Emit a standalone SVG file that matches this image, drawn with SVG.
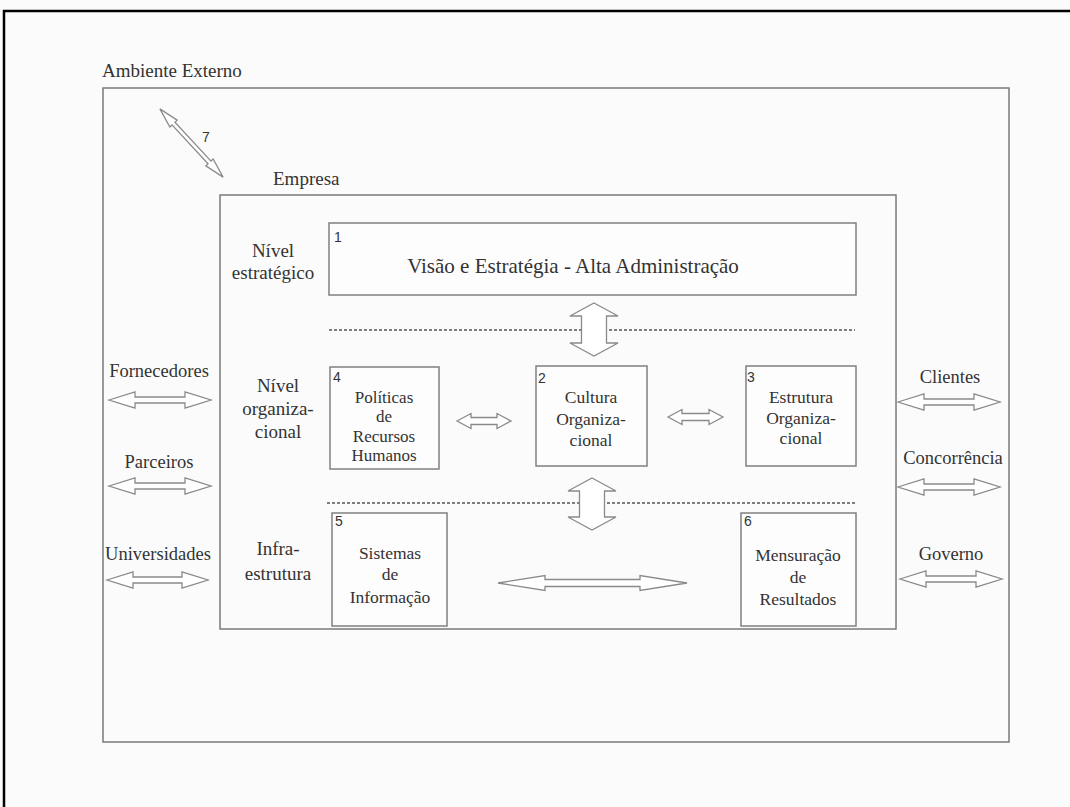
<svg xmlns="http://www.w3.org/2000/svg" width="1070" height="807" viewBox="0 0 1070 807">
<style>
.bg{fill:#fbfbfb}
.frame{fill:none;stroke:#000;stroke-width:2.5}
.box{fill:none;stroke:#7a7a7a;stroke-width:1.5}
.node{fill:#fdfdfd;stroke:#808080;stroke-width:1.5}
.arr{fill:#fff;stroke:#8a8a8a;stroke-width:1.3;stroke-linejoin:miter}
.dash{stroke:#555;stroke-width:1.6;stroke-dasharray:3 2;fill:none}
.t{font-family:"Liberation Serif","Times New Roman",serif;fill:#333;text-anchor:middle}
.tl{font-family:"Liberation Serif","Times New Roman",serif;fill:#333}
.n{font-family:"Liberation Sans",Arial,sans-serif;fill:#333;font-size:14px}
</style>
<rect class="bg" x="0" y="0" width="1070" height="807"/>
<rect class="frame" x="4" y="11" width="1090" height="820"/>

<g id="ambiente-externo">
<rect class="box" x="103" y="88" width="906" height="654"/>
<text class="tl" x="102" y="77" font-size="19">Ambiente Externo</text>
</g>

<g id="empresa">
<rect class="box" x="220" y="195" width="676" height="434"/>
<text class="tl" x="273" y="185" font-size="19">Empresa</text>
</g>

<g id="niveis">
<text class="t" font-size="19"><tspan x="273" y="257">Nível</tspan><tspan x="273" y="279">estratégico</tspan></text>
<text class="t" font-size="19"><tspan x="278" y="392">Nível</tspan><tspan x="278" y="415">organiza-</tspan><tspan x="278" y="438">cional</tspan></text>
<text class="t" font-size="19"><tspan x="278" y="555">Infra-</tspan><tspan x="278" y="580">estrutura</tspan></text>
<line class="dash" x1="329" y1="330" x2="855" y2="330"/>
<line class="dash" x1="327" y1="503" x2="855" y2="503"/>
</g>

<g id="node1">
<rect class="node" x="329" y="223" width="527" height="72"/>
<text class="n" x="334" y="242">1</text>
<text class="t" x="573" y="273" font-size="21">Visão e Estratégia - Alta Administração</text>
</g>

<g id="node2">
<rect class="node" x="536" y="366" width="111" height="100"/>
<text class="n" x="538" y="383">2</text>
<text class="t" font-size="17.5"><tspan x="591" y="403">Cultura</tspan><tspan x="591" y="425">Organiza-</tspan><tspan x="591" y="446">cional</tspan></text>
</g>

<g id="node3">
<rect class="node" x="746" y="366" width="110" height="100"/>
<text class="n" x="747" y="382">3</text>
<text class="t" font-size="17.5"><tspan x="801" y="403">Estrutura</tspan><tspan x="801" y="424">Organiza-</tspan><tspan x="801" y="444">cional</tspan></text>
</g>

<g id="node4">
<rect class="node" x="330" y="367" width="109" height="102"/>
<text class="n" x="333" y="382">4</text>
<text class="t" font-size="17"><tspan x="384" y="403">Políticas</tspan><tspan x="384" y="422">de</tspan><tspan x="384" y="442">Recursos</tspan><tspan x="384" y="461">Humanos</tspan></text>
</g>

<g id="node5">
<rect class="node" x="332" y="513" width="115" height="113"/>
<text class="n" x="335" y="526">5</text>
<text class="t" font-size="17.5"><tspan x="390" y="559">Sistemas</tspan><tspan x="390" y="580">de</tspan><tspan x="390" y="603">Informação</tspan></text>
</g>

<g id="node6">
<rect class="node" x="741" y="513" width="115" height="113"/>
<text class="n" x="744" y="526">6</text>
<text class="t" font-size="17.5"><tspan x="798" y="561">Mensuração</tspan><tspan x="798" y="583">de</tspan><tspan x="798" y="605">Resultados</tspan></text>
</g>

<g id="externos">
<text class="t" x="159" y="377" font-size="18.5">Fornecedores</text>
<text class="t" x="159" y="468" font-size="18.5">Parceiros</text>
<text class="t" x="158" y="560" font-size="18.5">Universidades</text>
<text class="t" x="950" y="383" font-size="18.5">Clientes</text>
<text class="t" x="953" y="464" font-size="18.5">Concorrência</text>
<text class="t" x="951" y="560" font-size="18.5">Governo</text>
<text class="n" x="202" y="142" font-size="16">7</text>
</g>

<g id="connectors">
<path class="arr" d="M109,400 L135,392 L135,397 L185,397 L185,392 L211,400 L185,408 L185,403 L135,403 L135,408 Z"/>
<path class="arr" d="M109,486 L135,478 L135,483 L185,483 L185,478 L211,486 L185,494 L185,489 L135,489 L135,494 Z"/>
<path class="arr" d="M107,580 L133,572 L133,577 L182,577 L182,572 L208,580 L182,588 L182,583 L133,583 L133,588 Z"/>
<path class="arr" d="M898,402 L924,394 L924,399 L974,399 L974,394 L1000,402 L974,410 L974,405 L924,405 L924,410 Z"/>
<path class="arr" d="M898,487 L924,479 L924,484 L974,484 L974,479 L1000,487 L974,495 L974,490 L924,490 L924,495 Z"/>
<path class="arr" d="M900,579 L926,571 L926,576 L976,576 L976,571 L1002,579 L976,587 L976,582 L926,582 L926,587 Z"/>
<path class="arr" d="M457,421 L471,413.5 L471,417.5 L497,417.5 L497,413.5 L511,421 L497,428.5 L497,424.5 L471,424.5 L471,428.5 Z"/>
<path class="arr" d="M668,417 L682,409.5 L682,413.5 L709,413.5 L709,409.5 L723,417 L709,424.5 L709,420.5 L682,420.5 L682,424.5 Z"/>
<path class="arr" d="M498,583 L545,575.5 L545,579.5 L640,579.5 L640,575.5 L687,583 L640,590.5 L640,586.5 L545,586.5 L545,590.5 Z"/>
<path class="arr" d="M594,303 L618,316 L606.5,316 L606.5,343 L618,343 L594,356 L570,343 L581.5,343 L581.5,316 L570,316 Z"/>
<path class="arr" d="M592,478 L616,491 L604.5,491 L604.5,517 L616,517 L592,530 L568,517 L579.5,517 L579.5,491 L568,491 Z"/>
<path class="arr" transform="translate(191.5,143) rotate(47.2)" d="M-46.5,0 L-26.5,-5 L-26.5,-2 L26.5,-2 L26.5,-5 L46.5,0 L26.5,5 L26.5,2 L-26.5,2 L-26.5,5 Z"/>
</g>
</svg>
